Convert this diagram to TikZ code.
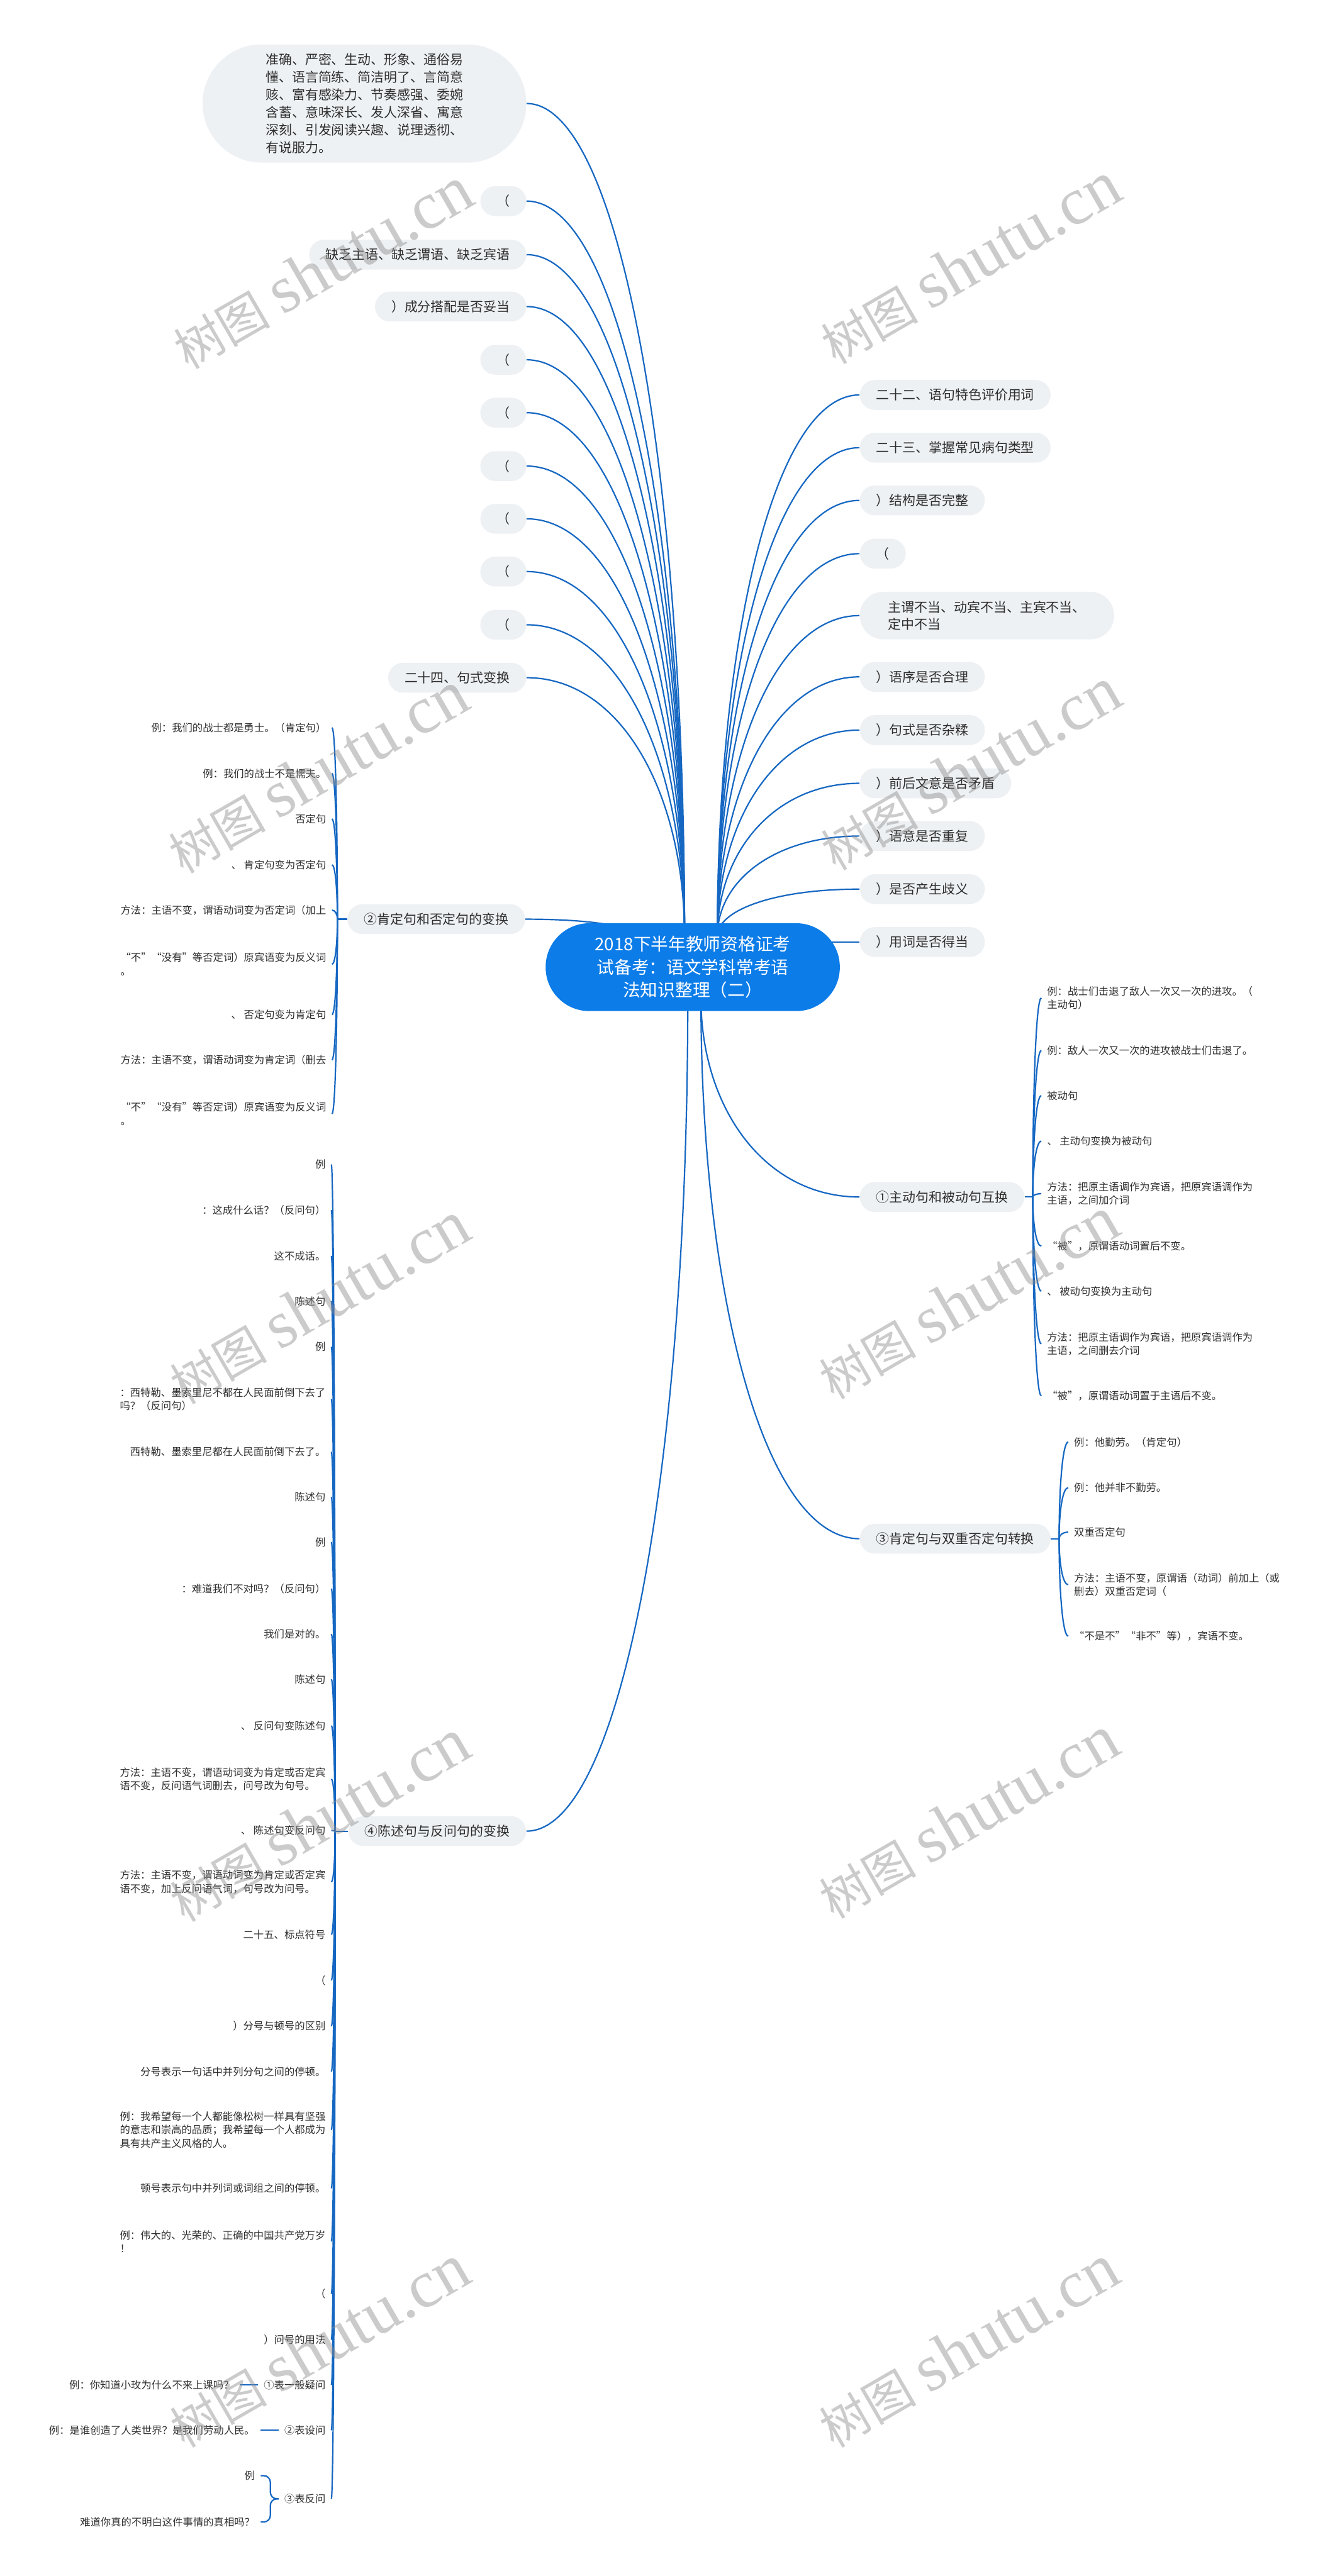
\documentclass[tikz,border=0pt]{standalone}
\usepackage{fontspec}
\setmainfont{Noto Sans CJK SC}
\newfontfamily\wmfont{Liberation Serif}
\usetikzlibrary{calc,backgrounds}

\definecolor{mapblue}{HTML}{0C7CE8}
\definecolor{linkblue}{HTML}{1567C2}
\definecolor{topicgray}{HTML}{EEF1F4}
\definecolor{inkgray}{HTML}{2E2E2E}

% curved link: leaves #1 vertically, enters #2 horizontally
\newcommand{\mapcurve}[2]{%
  \draw[conn] let \p1=(#1), \p2=(#2),
    \p3=($(\x1,\y1)!0.55!(\x1,\y2)$), \p4=($(\x2,\y2)!0.6!(\x1,\y2)$) in
    (\p1) .. controls (\p3) and (\p4) .. (\p2);}

\begin{document}
\begin{tikzpicture}[x=0.05cm,y=-0.05cm,
  ctrnode/.style={fill=mapblue, text=white, rounded corners=1.33cm, minimum width=8.95cm, minimum height=2.675cm, inner sep=0pt, align=center, font=\fontsize{15.1}{19.9}\selectfont},
  topic/.style={fill=topicgray, text=inkgray, rounded corners=0.455cm, minimum height=0.91cm, inner xsep=0.5cm, inner ysep=0pt, font=\fontsize{11.4}{14.8}\selectfont},
  leaf/.style={text=inkgray, inner xsep=0.17cm, inner ysep=1pt, align=left, font=\fontsize{8.9}{11.6}\selectfont},
  conn/.style={draw=linkblue, line width=1.2pt},
  wmark/.style={text=black!45, opacity=0.45, inner sep=0pt, anchor=base west}]

\useasboundingbox (0,0) rectangle (809,1568);

%%%%% Root %%%%%
\node[ctrnode] (ctr) at (421.5,588.7) {2018下半年教师资格证考\\试备考：语文学科常考语\\法知识整理（二）};

%%%%% Upper left %%%%%
\node[topic, anchor=east, align=left, minimum width=9.85cm, minimum height=3.6cm, rounded corners=1.8cm, font=\fontsize{11.4}{15.2}\selectfont] (lt1) at (320.4,63) {准确、严密、生动、形象、通俗易\\懂、语言简练、简洁明了、言简意\\赅、富有感染力、节奏感强、委婉\\含蓄、意味深长、发人深省、寓意\\深刻、引发阅读兴趣、说理透彻、\\有说服力。};
\node[topic, anchor=east] (lt2) at (320.4,122.4) {（};
\node[topic, anchor=east] (lt3) at (320.4,155) {缺乏主语、缺乏谓语、缺乏宾语};
\node[topic, anchor=east] (lt4) at (320.4,186.6) {）成分搭配是否妥当};
\node[topic, anchor=east] (lt5) at (320.4,219) {（};
\node[topic, anchor=east] (lt6) at (320.4,251.2) {（};
\node[topic, anchor=east] (lt7) at (320.4,283.7) {（};
\node[topic, anchor=east] (lt8) at (320.4,315.8) {（};
\node[topic, anchor=east] (lt9) at (320.4,347.9) {（};
\node[topic, anchor=east] (lt10) at (320.4,380.3) {（};
\node[topic, anchor=east] (lt11) at (320.4,412.5) {二十四、句式变换};

%%%%% Upper right %%%%%
\node[topic, anchor=west] (rt1) at (523,240.4) {二十二、语句特色评价用词};
\node[topic, anchor=west] (rt2) at (523,272.5) {二十三、掌握常见病句类型};
\node[topic, anchor=west] (rt3) at (523,304.6) {）结构是否完整};
\node[topic, anchor=west] (rt4) at (523,337) {（};
\node[topic, anchor=west, align=left, minimum width=7.74cm, minimum height=1.45cm, rounded corners=0.72cm] (rt5) at (523,374.7) {主谓不当、动宾不当、主宾不当、\\定中不当};
\node[topic, anchor=west] (rt6) at (523,412) {）语序是否合理};
\node[topic, anchor=west] (rt7) at (523,444.4) {）句式是否杂糅};
\node[topic, anchor=west] (rt8) at (523,476.8) {）前后文意是否矛盾};
\node[topic, anchor=west] (rt9) at (523,508.9) {）语意是否重复};
\node[topic, anchor=west] (rt10) at (523,541.2) {）是否产生歧义};
\node[topic, anchor=west] (rt11) at (523,573.4) {）用词是否得当};

%%%%% Sentence conversions %%%%%
\node[topic, anchor=east] (sw2) at (319.7,559.5) {②肯定句和否定句的变换};
\node[topic, anchor=west] (sw1) at (523,728.6) {①主动句和被动句互换};
\node[topic, anchor=west] (sw3) at (523,936.6) {③肯定句与双重否定句转换};
\node[topic, anchor=east] (sw4) at (320.3,1114.6) {④陈述句与反问句的变换};

% leaves of 2
\node[leaf, anchor=east] (p1) at (202,442.9) {例：我们的战士都是勇士。（肯定句）};
\node[leaf, anchor=east] (p2) at (202,470.8) {例：我们的战士不是懦夫。};
\node[leaf, anchor=east] (p3) at (202,498.5) {否定句};
\node[leaf, anchor=east] (p4) at (202,526.4) {、 肯定句变为否定句};
\node[leaf, anchor=east] (p5) at (202,554) {方法：主语不变，谓语动词变为否定词（加上};
\node[leaf, anchor=east] (p6) at (202,586.9) {“不”“没有”等否定词）原宾语变为反义词\\。};
\node[leaf, anchor=east] (p7) at (202,617.6) {、 否定句变为肯定句};
\node[leaf, anchor=east] (p8) at (202,645.2) {方法：主语不变，谓语动词变为肯定词（删去};
\node[leaf, anchor=east] (p9) at (202,678) {“不”“没有”等否定词）原宾语变为反义词\\。};

% leaves of 1
\node[leaf, anchor=west] (a1) at (633.6,607.4) {例：战士们击退了敌人一次又一次的进攻。（\\主动句）};
\node[leaf, anchor=west] (a2) at (633.6,639.4) {例：敌人一次又一次的进攻被战士们击退了。};
\node[leaf, anchor=west] (a3) at (633.6,666.9) {被动句};
\node[leaf, anchor=west] (a4) at (633.6,694.6) {、 主动句变换为被动句};
\node[leaf, anchor=west] (a5) at (633.6,726.6) {方法：把原主语调作为宾语，把原宾语调作为\\主语，之间加介词};
\node[leaf, anchor=west] (a6) at (633.6,758.5) {“被”，原谓语动词置后不变。};
\node[leaf, anchor=west] (a7) at (633.6,785.9) {、 被动句变换为主动句};
\node[leaf, anchor=west] (a8) at (633.6,818) {方法：把原主语调作为宾语，把原宾语调作为\\主语，之间删去介词};
\node[leaf, anchor=west] (a9) at (633.6,849.6) {“被”，原谓语动词置于主语后不变。};

% leaves of 3
\node[leaf, anchor=west] (c1) at (650,877.7) {例：他勤劳。（肯定句）};
\node[leaf, anchor=west] (c2) at (650,905.5) {例：他并非不勤劳。};
\node[leaf, anchor=west] (c3) at (650,932.6) {双重否定句};
\node[leaf, anchor=west] (c4) at (650,964.6) {方法：主语不变，原谓语（动词）前加上（或\\删去）双重否定词（};
\node[leaf, anchor=west] (c5) at (650,995.9) {“不是不”“非不”等），宾语不变。};

% leaves of 4
\node[leaf, anchor=east] (d1) at (201.6,708.8) {例};
\node[leaf, anchor=east] (d2) at (201.6,736.6) {：这成什么话？（反问句）};
\node[leaf, anchor=east] (d3) at (201.6,764.5) {这不成话。};
\node[leaf, anchor=east] (d4) at (201.6,792) {陈述句};
\node[leaf, anchor=east] (d5) at (201.6,819.8) {例};
\node[leaf, anchor=east] (d6) at (201.6,851.6) {：西特勒、墨索里尼不都在人民面前倒下去了\\吗？（反问句）};
\node[leaf, anchor=east] (d7) at (201.6,883.7) {西特勒、墨索里尼都在人民面前倒下去了。};
\node[leaf, anchor=east] (d8) at (201.6,911.2) {陈述句};
\node[leaf, anchor=east] (d9) at (201.6,938.7) {例};
\node[leaf, anchor=east] (d10) at (201.6,967) {：难道我们不对吗？（反问句）};
\node[leaf, anchor=east] (d11) at (201.6,994.6) {我们是对的。};
\node[leaf, anchor=east] (d12) at (201.6,1022.2) {陈述句};
\node[leaf, anchor=east] (d13) at (201.6,1050.4) {、 反问句变陈述句};
\node[leaf, anchor=east] (d14) at (201.6,1082.9) {方法：主语不变，谓语动词变为肯定或否定宾\\语不变，反问语气词删去，问号改为句号。};
\node[leaf, anchor=east] (d15) at (201.6,1114.2) {、 陈述句变反问句};
\node[leaf, anchor=east] (d16) at (201.6,1145.5) {方法：主语不变，谓语动词变为肯定或否定宾\\语不变，加上反问语气词，句号改为问号。};
\node[leaf, anchor=east] (d17) at (201.6,1177.6) {二十五、标点符号};
\node[leaf, anchor=east] (d18) at (201.6,1205.4) {（};
\node[leaf, anchor=east] (d19) at (201.6,1233.3) {）分号与顿号的区别};
\node[leaf, anchor=east] (d20) at (201.6,1260.9) {分号表示一句话中并列分句之间的停顿。};
\node[leaf, anchor=east] (d21) at (201.6,1296.4) {例：我希望每一个人都能像松树一样具有坚强\\的意志和崇高的品质；我希望每一个人都成为\\具有共产主义风格的人。};
\node[leaf, anchor=east] (d22) at (201.6,1332) {顿号表示句中并列词或词组之间的停顿。};
\node[leaf, anchor=east] (d23) at (201.6,1364.3) {例：伟大的、光荣的、正确的中国共产党万岁\\！};
\node[leaf, anchor=east] (d24) at (201.6,1396.2) {（};
\node[leaf, anchor=east] (d25) at (201.6,1424.2) {）问号的用法};
\node[leaf, anchor=east] (d26) at (201.6,1451.7) {①表一般疑问};
\node[leaf, anchor=east] (d27) at (201.6,1479.3) {②表设问};
\node[leaf, anchor=east] (d28) at (201.6,1521) {③表反问};
\node[leaf, anchor=east] (q1a) at (145.8,1451.7) {例：你知道小玫为什么不来上课吗？};
\node[leaf, anchor=east] (q2a) at (158.5,1479.3) {例：是谁创造了人类世界？是我们劳动人民。};
\node[leaf, anchor=east] (q3a) at (158.6,1506.9) {例};
\node[leaf, anchor=east] (q3b) at (158.6,1535.1) {难道你真的不明白这件事情的真相吗？};

%%%%% Links %%%%%
\begin{scope}[on background layer]
  \coordinate (hubL) at ($(ctr.north)+(-5,8)$);
  \coordinate (hubR) at ($(ctr.north)+(15,8)$);
  \coordinate (hubW) at ($(ctr.north)+(-40,6)$);
  \coordinate (hubD) at ($(ctr.south)+(5,-8)$);
  \coordinate (hubE) at ($(ctr.south)+(-3,-8)$);
  \foreach \i in {1,...,11} \mapcurve{hubL}{lt\i.east};
  \foreach \i in {1,...,10} \mapcurve{hubR}{rt\i.west};
  \draw[conn] (ctr.center |- rt11.west) -- (rt11.west);
  \mapcurve{hubW}{sw2.east};
  \mapcurve{hubD}{sw1.west};
  \mapcurve{hubD}{sw3.west};
  \mapcurve{hubE}{sw4.east};

  \draw[conn] (sw2.west) -- ++(-6,0) coordinate (j2);
  \draw[conn] (sw1.east) -- ++(5,0) coordinate (j1);
  \draw[conn] (sw3.east) -- ++(5,0) coordinate (j3);
  \draw[conn] (sw4.west) -- ++(-8,0) coordinate (j4);
  \foreach \i in {1,...,9} \mapcurve{j2}{p\i.east};
  \foreach \i in {1,...,9} \mapcurve{j1}{a\i.west};
  \foreach \i in {1,...,5} \mapcurve{j3}{c\i.west};
  \foreach \i in {1,...,28} \mapcurve{j4}{d\i.east};

  \draw[conn] (d26.west) -- (q1a.east);
  \draw[conn] (d27.west) -- (q2a.east);
  \draw[conn, rounded corners=0.2cm] (d28.west) -- ++(-5,0) |- (q3a.east);
  \draw[conn, rounded corners=0.2cm] (d28.west) -- ++(-5,0) |- (q3b.east);
\end{scope}

%%%%% Watermarks, one glyph per node %%%%%
\foreach \wx/\wy [count=\k] in {197/165, 591/162, 194/472, 591/470, 195/795, 590/792, 195/1110, 590/1108, 195/1430, 590/1430}{
  \begin{scope}[shift={(\wx,\wy)}, rotate=30, transform shape]
    \foreach \g/\gx [count=\j] in {树/-5.09, 图/-3.61}
      \node[wmark, font=\fontsize{42}{42}\selectfont] (wmc\k-\j) at (\gx cm,-0.55cm) {\g};
    \foreach \g/\gx [count=\j] in {s/-1.76, h/-0.97, u/0.05, t/1.07, u/1.64, ./2.66, c/3.17, n/4.08}
      \node[wmark, font=\wmfont\fontsize{58}{58}\selectfont] (wml\k-\j) at (\gx cm,-0.55cm) {\g};
  \end{scope}}

\end{tikzpicture}
\end{document}
